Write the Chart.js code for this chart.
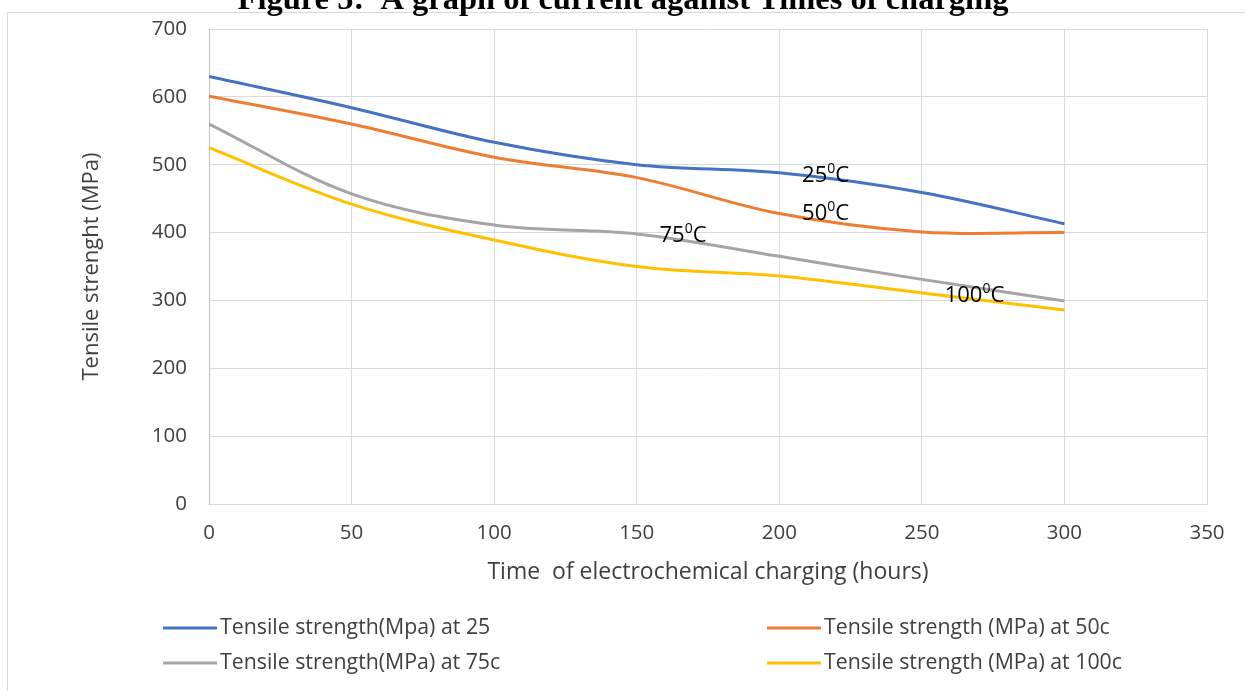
<!DOCTYPE html>
<html>
<head>
<meta charset="utf-8">
<script src="https://cdn.jsdelivr.net/npm/chart.js@4.4.1/dist/chart.umd.min.js"></script>
<style>
  * { margin: 0; padding: 0; box-sizing: border-box; }
  body { background: #ffffff; }
  #wrap { position: relative; width: 1245px; height: 691px; }
</style>
</head>
<body>
<div id="wrap"><canvas id="tensileChart"></canvas></div>
<script>
// values
const hours = [0, 50, 100, 150, 200, 250, 300];
const ts25 = [630, 584, 533, 500, 488, 459, 413];
const ts50 = [601, 560, 511, 481, 428, 401, 400];
const ts75 = [560, 457, 411, 398, 365, 331, 299];
const ts100 = [525, 442, 389, 350, 336, 311, 286];

const seriesLabels = [
  'Tensile strength(Mpa) at 25',
  'Tensile strength (MPa) at 50c',
  'Tensile strength(MPa) at 75c',
  'Tensile strength (MPa) at 100c'
];
const seriesColors = ['#4472C4', '#ED7D31', '#A5A5A5', '#FFC000'];

// in-plot labels: text, x (hours), y (MPa) of the baseline start
const noteNums = ['25', '50', '75', '100'];
const noteX = [208, 208, 158, 258];
const noteY = [474, 418, 386, 298];

const titleText = 'Figure 5:  A graph of current against Times of charging';
const FONT = '"Open Sans", sans-serif';

const toPoints = vals => hours.map((h, i) => ({ x: h, y: vals[i] }));

const decor = {
  id: 'decor',
  beforeDraw(chart) {
    const c = chart.ctx;
    c.save();
    c.strokeStyle = '#d9d9d9';
    c.lineWidth = 1;
    c.beginPath();
    c.moveTo(7.5, 691);
    c.lineTo(7.5, 12.5);
    c.lineTo(1245, 12.5);
    c.stroke();
    c.fillStyle = '#000';
    c.font = 'bold 32.5px "Liberation Serif", serif';
    c.textAlign = 'center';
    c.textBaseline = 'alphabetic';
    c.fillText(titleText, 623, 9);
    c.restore();
  },
  afterDatasetsDraw(chart) {
    const c = chart.ctx;
    const xs = chart.scales.x, ys = chart.scales.y;
    c.save();
    c.fillStyle = '#000';
    c.textBaseline = 'alphabetic';
    c.textAlign = 'left';
    noteNums.forEach((n, i) => {
      let px = xs.getPixelForValue(noteX[i]);
      const py = ys.getPixelForValue(noteY[i]);
      c.font = '22px ' + FONT;
      c.fillText(n, px, py);
      px += c.measureText(n).width;
      c.font = '14px ' + FONT;
      c.fillText('0', px, py - 9);
      px += c.measureText('0').width;
      c.font = '22px ' + FONT;
      c.fillText('C', px, py);
    });
    c.restore();
  },
  afterDraw(chart) {
    const c = chart.ctx;
    const colX = [163, 767];
    const rowY = [628, 663];
    c.save();
    c.font = '21.3px ' + FONT;
    c.textBaseline = 'middle';
    c.textAlign = 'left';
    chart.data.datasets.forEach((ds, i) => {
      const x = colX[i % 2], y = rowY[Math.floor(i / 2)];
      c.strokeStyle = ds.borderColor;
      c.lineWidth = 3;
      c.beginPath();
      c.moveTo(x, y);
      c.lineTo(x + 54, y);
      c.stroke();
      c.fillStyle = '#404040';
      c.fillText(ds.label, x + 57, y);
    });
    c.restore();
  }
};

const ctx = document.getElementById('tensileChart').getContext('2d');
const tensileChart = new Chart(ctx, {
  type: 'line',
  data: {
    datasets: [ts25, ts50, ts75, ts100].map((vals, i) => ({
      label: seriesLabels[i],
      data: toPoints(vals),
      borderColor: seriesColors[i],
      backgroundColor: seriesColors[i],
      borderWidth: 3,
      pointRadius: 0,
      tension: 0.35,
      fill: false
    }))
  },
  options: {
    responsive: true,
    maintainAspectRatio: false,
    animation: false,
    layout: { padding: { left: 0, top: 29, right: 38, bottom: 101 } },
    scales: {
      x: {
        type: 'linear',
        min: 0,
        max: 350,
        ticks: { stepSize: 50, padding: 17, color: '#404040', font: { family: FONT, size: 20.5 } },
        grid: { color: '#d9d9d9', lineWidth: 1, drawTicks: false },
        border: { color: '#d9d9d9', width: 1 },
        title: {
          display: true,
          text: 'Time  of electrochemical charging (hours)',
          color: '#404040',
          font: { family: FONT, size: 23 },
          padding: { top: 0, bottom: 4 }
        },
        afterFit(s) { s.height = 86; s.paddingLeft = 0; s.paddingRight = 0; }
      },
      y: {
        min: 0,
        max: 700,
        ticks: { stepSize: 100, padding: 22, color: '#404040', font: { family: FONT, size: 20.5 } },
        grid: { color: '#d9d9d9', lineWidth: 1, drawTicks: false },
        border: { color: '#bfbfbf', width: 1 },
        title: {
          display: true,
          text: 'Tensile strenght (MPa)',
          color: '#404040',
          font: { family: FONT, size: 22 },
          padding: { top: 79, bottom: 0 }
        },
        afterFit(s) { s.width = 209; s.paddingTop = 0; s.paddingBottom = 0; }
      }
    },
    plugins: { legend: { display: false }, tooltip: { enabled: false } }
  },
  plugins: [decor]
});
</script>
</body>
</html>
